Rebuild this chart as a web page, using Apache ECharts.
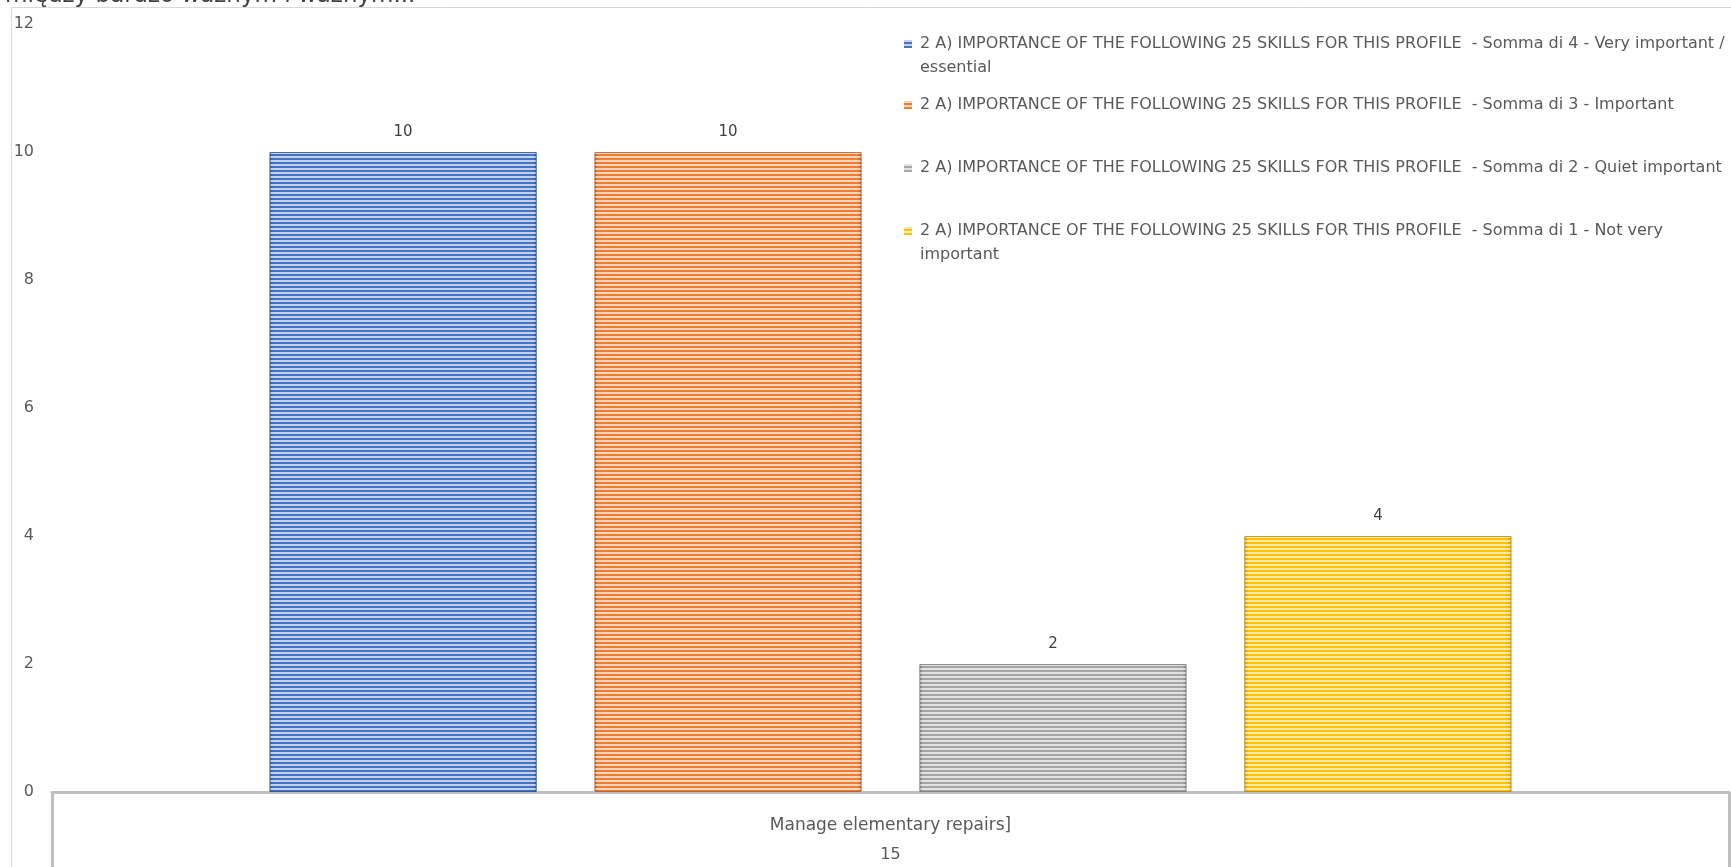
<!DOCTYPE html>
<html>
<head>
<meta charset="utf-8">
<script src="https://cdn.jsdelivr.net/npm/echarts@6/dist/echarts.min.js"></script>
<style>
  html, body { margin: 0; padding: 0; background: #ffffff; }
  #chart { width: 1731px; height: 867px; }
</style>
</head>
<body>
<div id="chart"></div>
<script>
// Chart heading (only its lower edge sits inside the frame)
const headingText = 'między bardzo ważnym i ważnym...';

// Category levels on the horizontal axis
const categories = ['Manage elementary repairs]'];
const groupLabels = ['15'];

// Series names
const seriesNames = [
  '2 A) IMPORTANCE OF THE FOLLOWING 25 SKILLS FOR THIS PROFILE  - Somma di 4 - Very important / essential',
  '2 A) IMPORTANCE OF THE FOLLOWING 25 SKILLS FOR THIS PROFILE  - Somma di 3 - Important',
  '2 A) IMPORTANCE OF THE FOLLOWING 25 SKILLS FOR THIS PROFILE  - Somma di 2 - Quiet important',
  '2 A) IMPORTANCE OF THE FOLLOWING 25 SKILLS FOR THIS PROFILE  - Somma di 1 - Not very important'
];

// Legend text as it wraps on screen
const legendLabels = [
  '2 A) IMPORTANCE OF THE FOLLOWING 25 SKILLS FOR THIS PROFILE  - Somma di 4 - Very important /\nessential',
  '2 A) IMPORTANCE OF THE FOLLOWING 25 SKILLS FOR THIS PROFILE  - Somma di 3 - Important',
  '2 A) IMPORTANCE OF THE FOLLOWING 25 SKILLS FOR THIS PROFILE  - Somma di 2 - Quiet important',
  '2 A) IMPORTANCE OF THE FOLLOWING 25 SKILLS FOR THIS PROFILE  - Somma di 1 - Not very\nimportant'
];

// Values per series
const veryImportant = [10];
const important = [10];
const quietImportant = [2];
const notVeryImportant = [4];
const seriesValues = [veryImportant, important, quietImportant, notVeryImportant];

// Y axis ticks
const yMin = 0, yMax = 12, yStep = 2;

const baseColors = ['#4472C4', '#ED7D31', '#A5A5A5', '#FFC000'];
const edgeColors = ['#34579a', '#b8612a', '#808080', '#c99a10'];
const borderColors = ['rgba(52,87,154,0.75)', 'rgba(184,97,42,0.75)', 'rgba(128,128,128,0.75)', 'rgba(190,145,20,0.75)'];

const FONT = "'DejaVu Sans', 'Open Sans', sans-serif";

function barFill(i) {
  return {
    type: 'linear', x: 0, y: 0, x2: 1, y2: 0,
    colorStops: [
      { offset: 0, color: edgeColors[i] },
      { offset: 0.015, color: baseColors[i] },
      { offset: 0.985, color: baseColors[i] },
      { offset: 1, color: edgeColors[i] }
    ]
  };
}

const stripeDecal = {
  symbol: 'rect',
  symbolSize: 1,
  dashArrayX: [1, 0],
  dashArrayY: [2, 2],
  rotation: 0,
  color: 'rgba(255,255,255,0.68)'
};

const series = seriesNames.map((name, i) => ({
  name: name,
  type: 'bar',
  xAxisIndex: 0,
  data: seriesValues[i],
  barWidth: 267,
  barGap: '21.7%',
  itemStyle: {
    color: barFill(i),
    borderColor: borderColors[i],
    borderWidth: 1,
    decal: stripeDecal
  },
  label: {
    show: true,
    position: 'top',
    distance: 12,
    color: '#404040',
    fontSize: 15,
    fontFamily: FONT
  }
}));

// Marker shapes: a small square with spacing to the text; for two-line
// entries the square sits beside the first line
const iconOneLine = 'path://M0,0L8,0L8,8L0,8ZM11,8L11,7.99';
const iconTwoLine = 'path://M0,0L8,0L8,8L0,8ZM11,32L11,31.99';

// One legend block per entry, so each sits at its own line
const legendTops = [32, 93, 156, 219];
const legendTwoLine = [true, false, false, true];
const legends = seriesNames.map((name, i) => ({
  data: [name],
  orient: 'vertical',
  left: 904,
  top: legendTops[i],
  padding: 0,
  itemWidth: 11,
  itemHeight: legendTwoLine[i] ? 32 : 8,
  icon: legendTwoLine[i] ? iconTwoLine : iconOneLine,
  itemStyle: { borderWidth: 0 },
  selectedMode: false,
  formatter: () => legendLabels[i],
  textStyle: {
    color: '#595959',
    fontSize: 16,
    lineHeight: 24,
    fontFamily: FONT
  }
}));

const chart = echarts.init(document.getElementById('chart'), null, { renderer: 'canvas' });

chart.setOption({
  backgroundColor: '#ffffff',
  animation: false,
  title: {
    text: headingText,
    left: 0,
    top: -20,
    textStyle: { color: '#404040', fontSize: 23, fontWeight: 'normal', fontFamily: FONT }
  },
  graphic: [{
    type: 'polyline',
    silent: true,
    shape: { points: [[11.5, 867], [11.5, 7.5], [1731, 7.5]] },
    style: { stroke: '#d9d9d9', lineWidth: 1, fill: null }
  }],
  legend: legends,
  grid: { left: 52, right: 2, top: 24, bottom: 75, containLabel: false },
  xAxis: [{
    type: 'category',
    data: categories,
    position: 'bottom',
    axisLine: { show: true, lineStyle: { color: '#bfbfbf', width: 3 } },
    axisTick: { show: true, length: 80, lineStyle: { color: '#bfbfbf', width: 3 } },
    axisLabel: { margin: 25, color: '#595959', fontSize: 17, fontFamily: FONT },
    splitLine: { show: false }
  }, {
    type: 'category',
    data: groupLabels,
    position: 'bottom',
    axisLine: { show: false },
    axisTick: { show: false },
    axisLabel: { margin: 55, color: '#595959', fontSize: 16, fontFamily: FONT },
    splitLine: { show: false }
  }],
  yAxis: {
    type: 'value',
    min: yMin,
    max: yMax,
    interval: yStep,
    axisLine: { show: false },
    axisTick: { show: false },
    splitLine: { show: false },
    axisLabel: { margin: 18, color: '#595959', fontSize: 16, fontFamily: FONT, align: 'right' }
  },
  series: series
});
</script>
</body>
</html>
